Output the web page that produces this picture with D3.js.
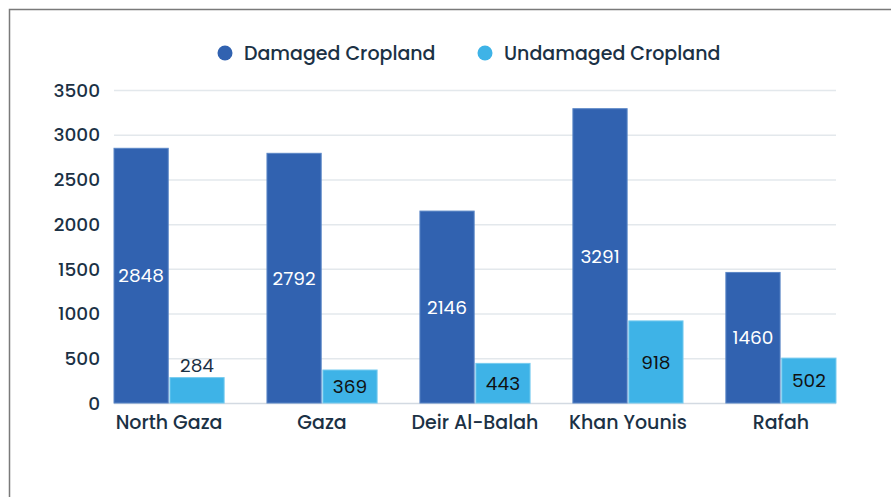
<!DOCTYPE html>
<html>
<head>
<meta charset="utf-8">
<script src="https://cdn.jsdelivr.net/npm/d3@7"></script>
<style>
  body { margin: 0; background: #fff; }
  svg { display: block; font-family: Poppins, Inter, "Noto Sans", sans-serif; font-weight: 500; }
</style>
</head>
<body>
<div id="chart"></div>
<script>
// Cropland in Gaza governorates
const regions = ["North Gaza", "Gaza", "Deir Al-Balah", "Khan Younis", "Rafah"];
const damaged = [2848, 2792, 2146, 3291, 1460];
const undamaged = [284, 369, 443, 918, 502];
const seriesNames = ["Damaged Cropland", "Undamaged Cropland"];
const seriesColors = ["#3162b0", "#3eb3e7"];
const yTicks = [0, 500, 1000, 1500, 2000, 2500, 3000, 3500];

const width = 891, height = 497;
const margin = { top: 90, right: 55, bottom: 94, left: 114 };

const svg = d3.select("#chart").append("svg")
    .attr("width", width)
    .attr("height", height);

// frame (only top and left edges are in view)
svg.append("path")
    .attr("d", `M9.5,${height} V9.5 H${width}`)
    .attr("fill", "none")
    .attr("stroke", "#7a7a7a")
    .attr("stroke-width", 1.5);

const data = regions.map((r, i) => ({ region: r, values: [damaged[i], undamaged[i]] }));

const x0 = d3.scaleBand()
    .domain(regions)
    .range([margin.left, width - margin.right])
    .paddingInner(0.28)
    .paddingOuter(0);

const x1 = d3.scaleBand()
    .domain([0, 1])
    .range([0, x0.bandwidth()])
    .paddingInner(0.03);

const y = d3.scaleLinear()
    .domain([0, 3500])
    .range([height - margin.bottom, margin.top]);

// gridlines
svg.append("g")
    .selectAll("line")
    .data(yTicks)
    .enter().append("line")
    .attr("x1", margin.left)
    .attr("x2", width - margin.right)
    .attr("y1", d => y(d) + 0.5)
    .attr("y2", d => y(d) + 0.5)
    .attr("stroke", d => d === 0 ? "#d3dae2" : "#e3e8ec")
    .attr("stroke-width", 1.5);

// y axis labels
svg.append("g")
    .selectAll("text")
    .data(yTicks)
    .enter().append("text")
    .attr("x", margin.left - 14)
    .attr("y", d => y(d))
    .attr("dy", "0.36em")
    .attr("text-anchor", "end")
    .attr("fill", "#1b3145")
    .attr("font-size", 18.5)
    .text(d => d);

// bars
const groups = svg.append("g")
    .selectAll("g")
    .data(data)
    .enter().append("g")
    .attr("transform", d => `translate(${x0(d.region)},0)`);

groups.selectAll("rect")
    .data(d => d.values.map((v, i) => ({ v, i })))
    .enter().append("rect")
    .attr("x", d => x1(d.i))
    .attr("y", d => y(d.v))
    .attr("width", x1.bandwidth())
    .attr("height", d => y(0) - y(d.v))
    .attr("fill", d => seriesColors[d.i])
    .attr("stroke", d => d.i === 0 ? "#5a86c6" : "#76cbef")
    .attr("stroke-width", 1);

// value labels: inside the bar when it fits, otherwise above
groups.selectAll(".val")
    .data(d => d.values.map((v, i) => ({ v, i })))
    .enter().append("text")
    .attr("class", "val")
    .attr("x", d => x1(d.i) + x1.bandwidth() / 2)
    .attr("y", d => {
        const h = y(0) - y(d.v);
        return h < 30 ? y(d.v) - 12 : y(d.v) + h / 2;
    })
    .attr("dy", "0.36em")
    .attr("text-anchor", "middle")
    .attr("font-size", 18.5)
    .attr("font-weight", 400)
    .attr("fill", d => d.i === 0 ? "#ffffff" : (y(0) - y(d.v) < 30 ? "#1b3145" : "#111"))
    .text(d => d.v);

// x labels
svg.append("g")
    .selectAll("text")
    .data(regions)
    .enter().append("text")
    .attr("x", d => x0(d) + x0.bandwidth() / 2)
    .attr("y", y(0) + 19)
    .attr("dy", "0.36em")
    .attr("text-anchor", "middle")
    .attr("fill", "#1b3145")
    .attr("font-size", 19)
    .text(d => d);

// legend
const legendX = [225, 485];
const legend = svg.append("g")
    .selectAll("g")
    .data(seriesNames)
    .enter().append("g")
    .attr("transform", (d, i) => `translate(${legendX[i]},53)`);

legend.append("circle")
    .attr("r", 7.5)
    .attr("fill", (d, i) => seriesColors[i]);

legend.append("text")
    .attr("x", 19)
    .attr("dy", "0.36em")
    .attr("fill", "#1b3145")
    .attr("font-size", 19)
    .text(d => d);
</script>
</body>
</html>
